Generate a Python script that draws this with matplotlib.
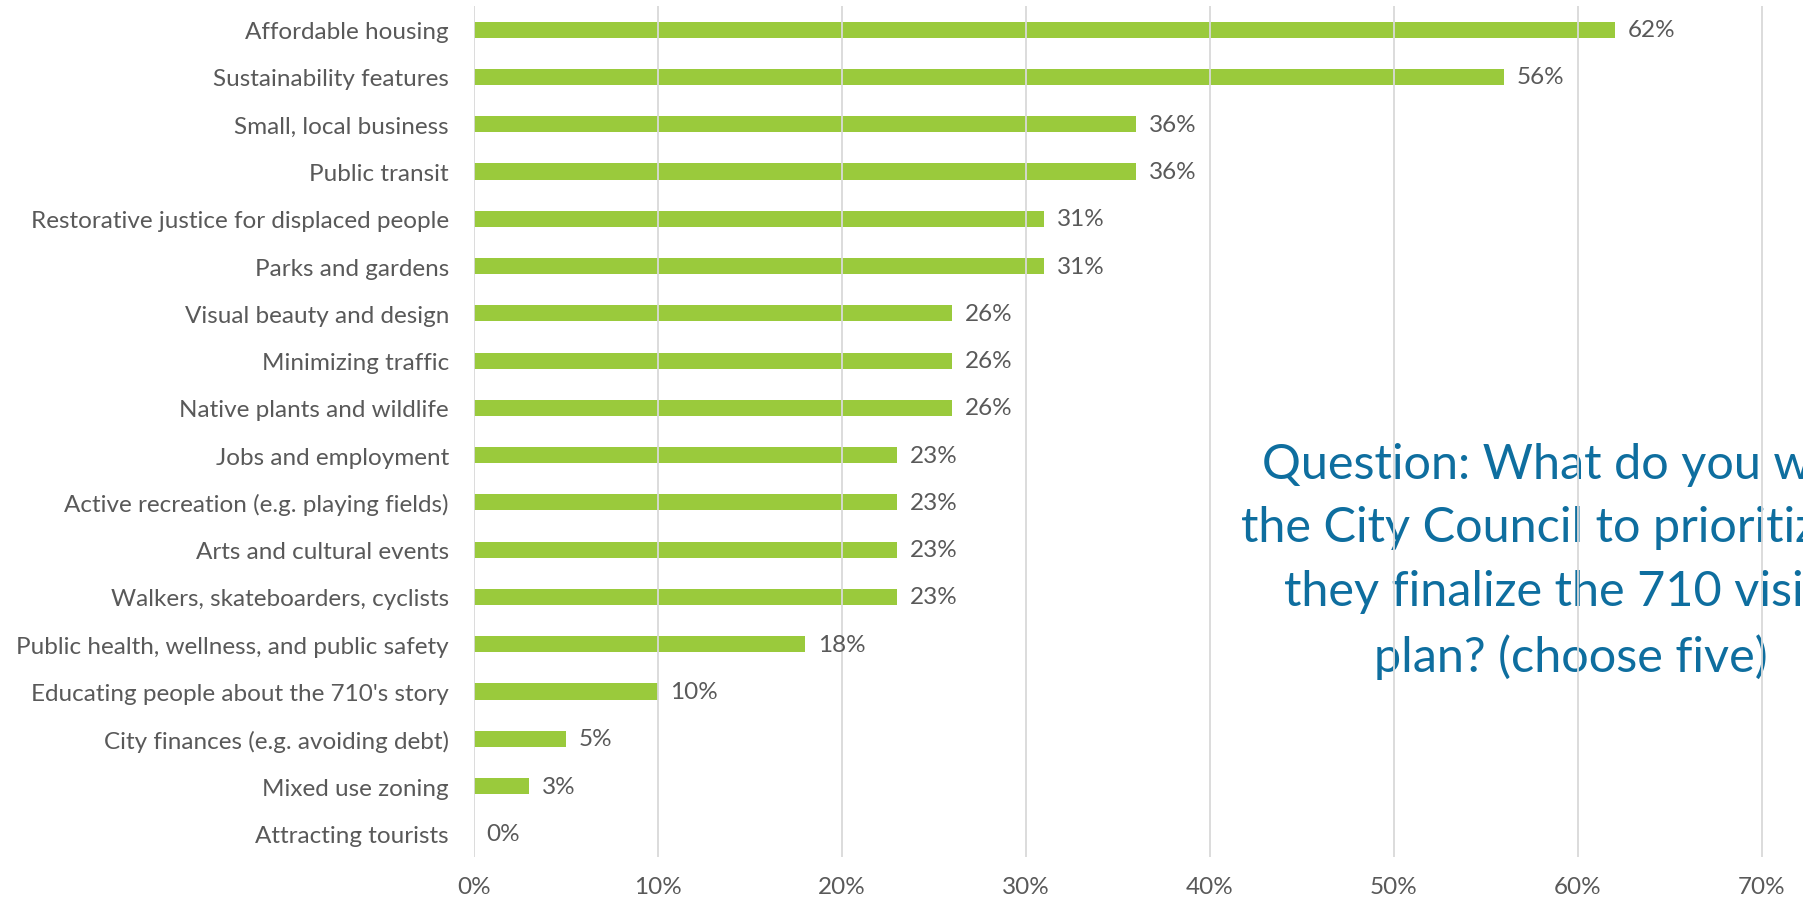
import matplotlib
matplotlib.use("Agg")
import matplotlib.pyplot as plt
from matplotlib.ticker import FuncFormatter

categories = [
    "Affordable housing",
    "Sustainability features",
    "Small, local business",
    "Public transit",
    "Restorative justice for displaced people",
    "Parks and gardens",
    "Visual beauty and design",
    "Minimizing traffic",
    "Native plants and wildlife",
    "Jobs and employment",
    "Active recreation (e.g. playing fields)",
    "Arts and cultural events",
    "Walkers, skateboarders, cyclists",
    "Public health, wellness, and public safety",
    "Educating people about the 710's story",
    "City finances (e.g. avoiding debt)",
    "Mixed use zoning",
    "Attracting tourists",
]
values = [0.62, 0.56, 0.36, 0.36, 0.31, 0.31, 0.26, 0.26, 0.26,
          0.23, 0.23, 0.23, 0.23, 0.18, 0.10, 0.05, 0.03, 0.00]
xticks = [0, 0.1, 0.2, 0.3, 0.4, 0.5, 0.6, 0.7]
question = ("Question: What do you want\n"
            "the City Council to prioritize as\n"
            "they finalize the 710 vision\n"
            "plan? (choose five)")

FONT = "Lato"
TXT = "#595959"
BAR = "#9ACA3C"
GRID = "#D9D9D9"
QCOL = "#0E6E9F"
FS = 17.5

fig = plt.figure(figsize=(18.03, 9.04), dpi=100)
ax = fig.add_axes([474 / 1803, 46 / 904, 1 - 474 / 1803, 851 / 904])

n = len(categories)
ypos = list(range(n))
ax.barh(ypos, values, height=0.34, color=BAR, zorder=2)
ax.set_ylim(n - 0.5, -0.5)
ax.set_xlim(0, 0.7223)

ax.set_yticks(ypos)
ax.set_yticklabels(categories, fontsize=FS, color=TXT, family=FONT)
ax.set_xticks(xticks)
ax.xaxis.set_major_formatter(FuncFormatter(lambda v, p: f"{v*100:.0f}%"))
for lab in ax.get_xticklabels():
    lab.set_fontsize(FS)
    lab.set_color(TXT)
    lab.set_family(FONT)
ax.tick_params(axis="y", length=0, pad=18)
ax.tick_params(axis="x", length=0, pad=14)

for s in ["top", "right", "bottom", "left"]:
    ax.spines[s].set_visible(False)
ax.grid(axis="x", color=GRID, linewidth=1.3, zorder=3)
ax.set_axisbelow(False)

for y, v in zip(ypos, values):
    ax.annotate(f"{v*100:.0f}%", xy=(v, y), xytext=(9, 0),
                textcoords="offset points", ha="left", va="center",
                fontsize=FS, color=TXT, family=FONT, zorder=4)

ax.text(0.596, 11.22, question, ha="center", va="center",
        fontsize=35, color=QCOL, family=FONT, linespacing=1.54,
        zorder=1, clip_on=False)

fig.savefig("out.png", dpi=100)
